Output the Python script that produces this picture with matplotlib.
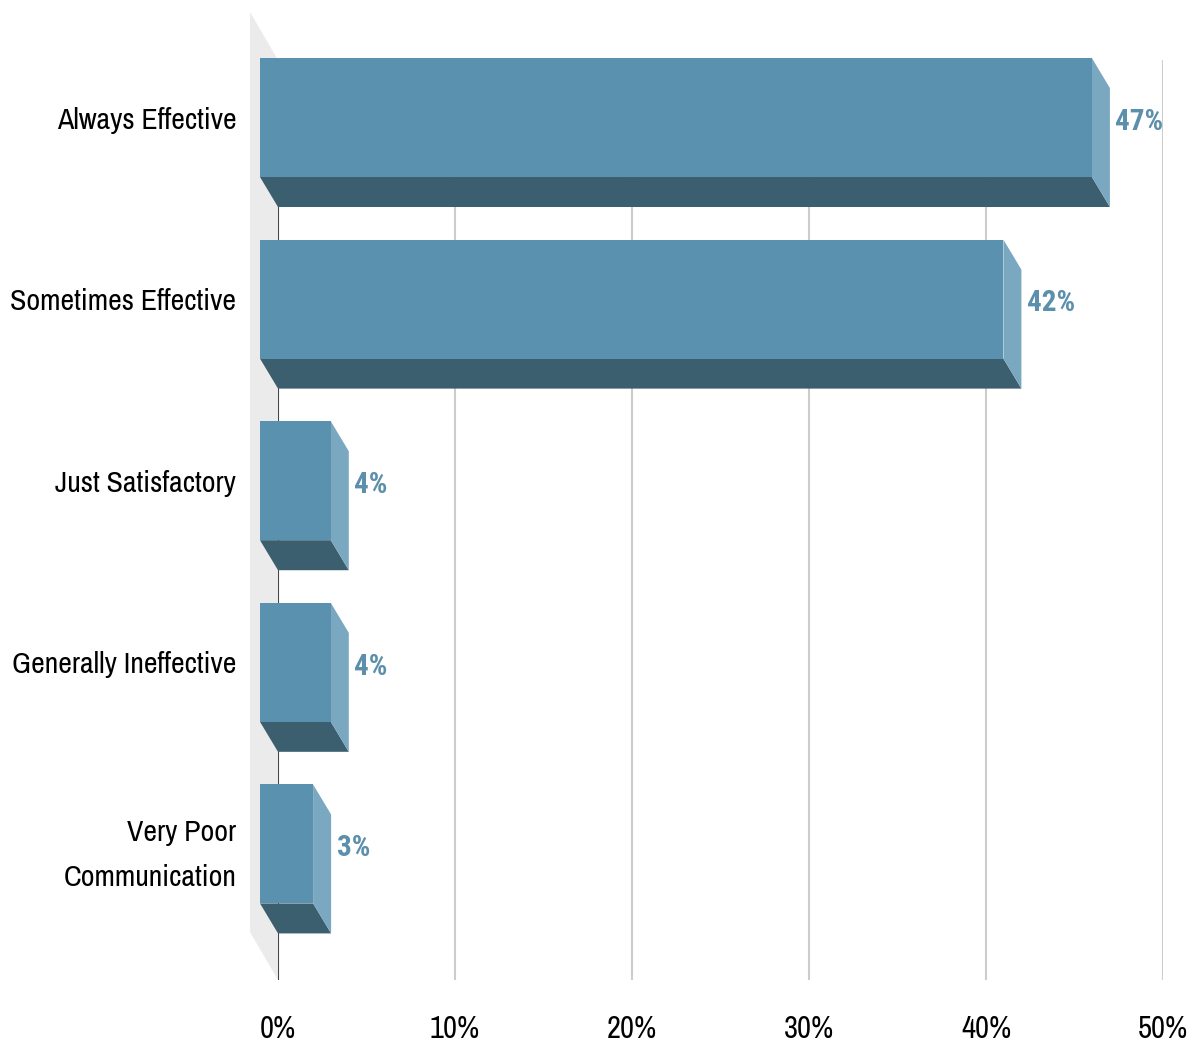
import numpy as np
import matplotlib.pyplot as plt
from matplotlib.patches import Polygon

plt.rcParams['font.family'] = ['Archivo Narrow', 'DejaVu Sans']

# survey answers and their share of responses (%)
categories = ['Always Effective', 'Sometimes Effective', 'Just Satisfactory',
              'Generally Ineffective', 'Very Poor\nCommunication']
values = [47, 42, 4, 4, 3]
xticks = [0, 10, 20, 30, 40, 50]

front_col = '#5a91ae'
bottom_col = '#3b5f6f'
side_col = '#7aa8c1'
label_col = '#5b8fac'

fig = plt.figure(figsize=(11.97, 10.45), dpi=100)
W, H = 1197, 1045
ax = fig.add_axes([278 / W, (H - 980) / H, (1163 - 278) / W, (980 - 60) / H])

ax.set_xlim(0, 50)
ax.set_ylim(4.584, -0.482)
for s in ax.spines.values():
    s.set_visible(False)

# depth of the boxes: convert pixel offsets into data units
def px_to_data(dx, dy):
    p0 = ax.transData.transform((0, 0))
    inv = ax.transData.inverted()
    q = inv.transform(p0 + np.array([dx, dy]))
    return q[0], q[1]

bdx, bdy = px_to_data(-18, 30)
wdx, wdy = px_to_data(-28, 48)
h = 0.655
y = np.arange(len(categories))

# side wall on the left
y0, y1 = ax.get_ylim()
wall = Polygon([(0, y1), (wdx, y1 + wdy), (wdx, y0 + wdy), (0, y0)],
               closed=True, facecolor='#ebebeb', edgecolor='none',
               zorder=0, clip_on=False)
ax.add_patch(wall)

# grid lines
for t in xticks[1:]:
    ax.axvline(t, color='#cccccc', lw=1.5, zorder=1)
ax.axvline(0, color='#444444', lw=1.5, zorder=1)

for yi, v in zip(y, values):
    top, bot = yi - h / 2, yi + h / 2
    bottom_face = Polygon([(0 + bdx, bot + bdy), (v + bdx, bot + bdy), (v, bot), (0, bot)],
                          closed=True, facecolor=bottom_col, edgecolor='none',
                          zorder=3, clip_on=False)
    side_face = Polygon([(v + bdx, top + bdy), (v, top), (v, bot), (v + bdx, bot + bdy)],
                        closed=True, facecolor=side_col, edgecolor='none',
                        zorder=3, clip_on=False)
    front_face = Polygon([(bdx, top + bdy), (v + bdx, top + bdy), (v + bdx, bot + bdy), (bdx, bot + bdy)],
                         closed=True, facecolor=front_col, edgecolor='none',
                         zorder=4, clip_on=False)
    for p in (bottom_face, side_face, front_face):
        ax.add_patch(p)
    ax.annotate(f'{v}%', xy=(v, yi + bdy), xytext=(4, -3), textcoords='offset points',
                ha='left', va='center', fontsize=21, fontweight='bold',
                family='Roboto Condensed', color=label_col, zorder=5)

ax.set_yticks(y + bdy)
ax.set_yticklabels(categories, fontsize=21.5, linespacing=1.8)
ax.tick_params(axis='y', length=0, pad=30)

ax.set_xticks(xticks)
ax.set_xticklabels([f'{t}%' for t in xticks], fontsize=22)
ax.tick_params(axis='x', length=0, pad=25)

fig.savefig('out.png', dpi=100)
